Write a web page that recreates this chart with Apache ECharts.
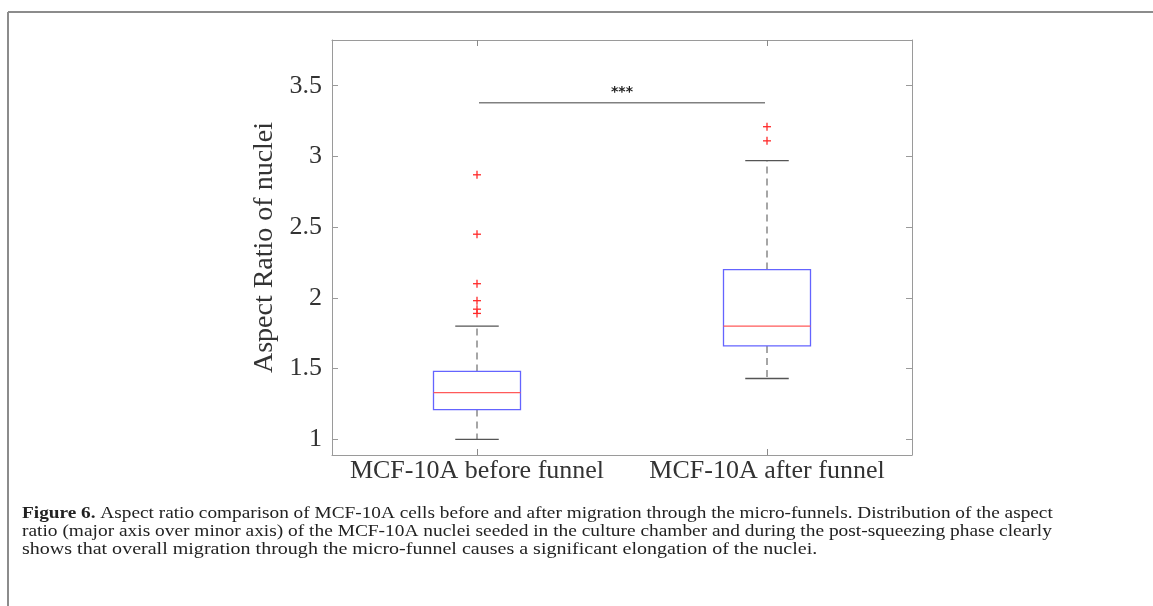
<!DOCTYPE html>
<html>
<head>
<meta charset="utf-8">
<script src="https://cdn.jsdelivr.net/npm/echarts@6/dist/echarts.min.js"></script>
<style>
  html, body { margin: 0; padding: 0; background: #fff; }
  #container { width: 1153px; height: 606px; }
</style>
</head>
<body>
<div id="container"></div>
<script>
var categories = ['MCF-10A before funnel', 'MCF-10A after funnel'];
// box statistics per category
var whiskerLow  = [1.00, 1.43];
var quartile1   = [1.21, 1.66];
var medians     = [1.33, 1.80];
var quartile3   = [1.48, 2.20];
var whiskerHigh = [1.80, 2.97];
var outliersBefore = [2.87, 2.45, 2.10, 1.98, 1.92, 1.89];
var outliersAfter  = [3.21, 3.11];
var yTicks = [1, 1.5, 2, 2.5, 3, 3.5];
var sigLevel = 3.38;
var sigLabel = '***';

var captionLines = [
    'Aspect ratio comparison of MCF-10A cells before and after migration through the micro-funnels. Distribution of the aspect',
    'ratio (major axis over minor axis) of the MCF-10A nuclei seeded in the culture chamber and during the post-squeezing phase clearly',
    'shows that overall migration through the micro-funnel causes a significant elongation of the nuclei.'
];

var serif = '"Liberation Serif", "DejaVu Serif", serif';

var boxData = categories.map(function (c, i) {
    return [i, whiskerLow[i], quartile1[i], medians[i], quartile3[i], whiskerHigh[i]];
});
var outlierData = [];
outliersBefore.forEach(function (v) { outlierData.push([0, v]); });
outliersAfter.forEach(function (v) { outlierData.push([1, v]); });

var dom = document.getElementById('container');
var myChart = echarts.init(dom, null, { renderer: 'canvas' });

function renderBox(params, api) {
    var idx = api.value(0);
    var band = api.size([1, 0])[0];
    var w = band * 0.3;
    var cap = w / 2;
    var pLow = api.coord([idx, api.value(1)]);
    var pQ1 = api.coord([idx, api.value(2)]);
    var pMed = api.coord([idx, api.value(3)]);
    var pQ3 = api.coord([idx, api.value(4)]);
    var pHigh = api.coord([idx, api.value(5)]);
    var x = pMed[0];
    return {
        type: 'group',
        children: [
            { type: 'line', shape: { x1: x, y1: pQ3[1], x2: x, y2: pHigh[1] },
              style: { stroke: '#777', lineWidth: 1.3, lineDash: [7, 5] } },
            { type: 'line', shape: { x1: x, y1: pQ1[1], x2: x, y2: pLow[1] },
              style: { stroke: '#777', lineWidth: 1.3, lineDash: [7, 5] } },
            { type: 'line', shape: { x1: x - cap / 2, y1: pHigh[1], x2: x + cap / 2, y2: pHigh[1] },
              style: { stroke: '#555', lineWidth: 1.3 } },
            { type: 'line', shape: { x1: x - cap / 2, y1: pLow[1], x2: x + cap / 2, y2: pLow[1] },
              style: { stroke: '#555', lineWidth: 1.3 } },
            { type: 'rect', shape: { x: x - w / 2, y: pQ3[1], width: w, height: pQ1[1] - pQ3[1] },
              style: { fill: 'none', stroke: '#6464ff', lineWidth: 1.3 } },
            { type: 'line', shape: { x1: x - w / 2, y1: pMed[1], x2: x + w / 2, y2: pMed[1] },
              style: { stroke: '#ff5a5a', lineWidth: 1.3 } }
        ]
    };
}

function renderOutlier(params, api) {
    var p = api.coord([api.value(0), api.value(1)]);
    var s = 4;
    return {
        type: 'group',
        children: [
            { type: 'line', shape: { x1: p[0] - s, y1: p[1], x2: p[0] + s, y2: p[1] },
              style: { stroke: '#ff2a2a', lineWidth: 1.3 } },
            { type: 'line', shape: { x1: p[0], y1: p[1] - s, x2: p[0], y2: p[1] + s },
              style: { stroke: '#ff2a2a', lineWidth: 1.3 } }
        ]
    };
}

function renderSig(params, api) {
    var a = api.coord([api.value(0), api.value(2)]);
    var b = api.coord([api.value(1), api.value(2)]);
    return {
        type: 'group',
        children: [
            { type: 'line', shape: { x1: a[0] + 2, y1: a[1], x2: b[0] - 2, y2: b[1] },
              style: { stroke: '#808080', lineWidth: 1.5 } },
            { type: 'text', x: (a[0] + b[0]) / 2, y: a[1] - 10,
              style: { text: sigLabel, fill: '#222', font: 'bold 14px "DejaVu Sans", sans-serif',
                       align: 'center', verticalAlign: 'middle' } }
        ]
    };
}

var yBase = {
    type: 'value',
    min: 0.889,
    max: 3.823,
    splitLine: { show: false },
    axisLine: { show: true, lineStyle: { color: '#9a9a9a', width: 1 } }
};

var xTick = { show: true, inside: true, alignWithLabel: true, interval: 0, length: 6,
              customValues: [0, 1], lineStyle: { color: '#8a8a8a' } };

var captionStyle = { font: '17px ' + serif, fill: '#222' };

var option = {
    animation: false,
    backgroundColor: '#fff',
    grid: { left: 332, top: 40, right: 241, bottom: 151, show: false },
    xAxis: [{
        type: 'category',
        data: categories,
        position: 'bottom',
        axisLine: { lineStyle: { color: '#9a9a9a' } },
        axisTick: xTick,
        axisLabel: { interval: 0, fontFamily: serif, fontSize: 26, color: '#333', margin: 3 }
    }, {
        type: 'category',
        data: categories,
        position: 'top',
        axisLine: { lineStyle: { color: '#9a9a9a' } },
        axisTick: xTick,
        axisLabel: { show: false }
    }],
    yAxis: [Object.assign({}, yBase, {
        position: 'left',
        name: 'Aspect Ratio of nuclei',
        nameLocation: 'middle',
        nameGap: 43,
        nameTextStyle: { fontFamily: serif, fontSize: 28, color: '#333' },
        axisTick: { show: true, inside: true, length: 6, customValues: yTicks, lineStyle: { color: '#9a9a9a' } },
        axisLabel: { show: true, customValues: yTicks, fontFamily: serif, fontSize: 26, color: '#333', margin: 10 }
    }), Object.assign({}, yBase, {
        position: 'right',
        axisTick: { show: true, inside: true, length: 6, customValues: yTicks, lineStyle: { color: '#9a9a9a' } },
        axisLabel: { show: false }
    })],
    series: [{
        type: 'custom',
        renderItem: renderBox,
        encode: { x: 0, y: [1, 2, 3, 4, 5] },
        data: boxData,
        silent: true
    }, {
        type: 'custom',
        renderItem: renderOutlier,
        encode: { x: 0, y: 1 },
        data: outlierData,
        silent: true
    }, {
        type: 'custom',
        renderItem: renderSig,
        encode: { x: [0, 1], y: 2 },
        data: [[0, 1, sigLevel]],
        silent: true
    }],
    graphic: [
        { type: 'line', shape: { x1: 8, y1: 12, x2: 1153, y2: 12 }, style: { stroke: '#8c8c8c', lineWidth: 2 } },
        { type: 'line', shape: { x1: 8, y1: 12, x2: 8, y2: 606 }, style: { stroke: '#8c8c8c', lineWidth: 2 } },
        { type: 'text', x: 22, y: 505, scaleX: 1.134,
          style: Object.assign({ text: '{b|Figure 6.} ' + captionLines[0],
                   rich: { b: { fontWeight: 'bold', fontFamily: serif, fontSize: 17 } } }, captionStyle) },
        { type: 'text', x: 22, y: 523, scaleX: 1.141,
          style: Object.assign({ text: captionLines[1] }, captionStyle) },
        { type: 'text', x: 22, y: 541, scaleX: 1.178,
          style: Object.assign({ text: captionLines[2] }, captionStyle) }
    ]
};

myChart.setOption(option);
window.onresize = function () { myChart.resize(); };
</script>
</body>
</html>
